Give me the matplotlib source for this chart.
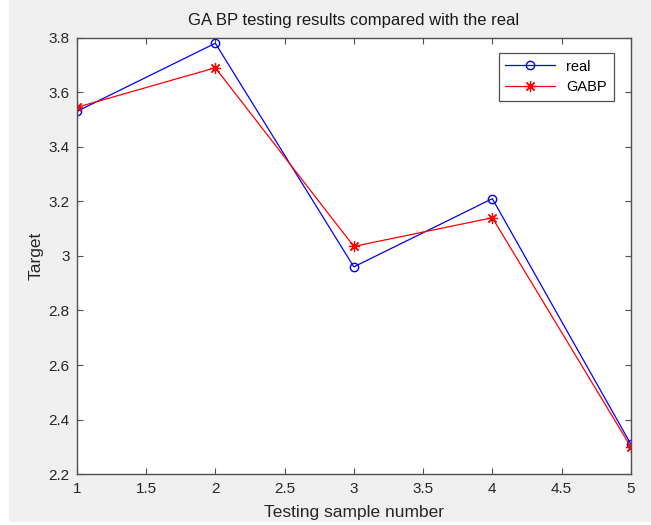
import numpy as np
import matplotlib
matplotlib.use('Agg')
import matplotlib.pyplot as plt
from matplotlib.patches import Rectangle

plt.rcParams['font.family'] = ['Liberation Sans', 'DejaVu Sans']

# test samples
samples = [1, 2, 3, 4, 5]
real = [3.53, 3.78, 2.96, 3.21, 2.31]
gabp = [3.545, 3.69, 3.035, 3.14, 2.30]

xticks = np.arange(1, 5.01, 0.5)
yticks = np.arange(2.2, 3.81, 0.2)

fig = plt.figure(figsize=(6.51, 5.25), dpi=100, facecolor='#f0f0f0')
# white margins of the screenshot (left and bottom)
fig.patches.append(Rectangle((0, 0), 9 / 651, 1, transform=fig.transFigure,
                             facecolor='white', edgecolor='none', zorder=-1))
fig.patches.append(Rectangle((0, 0), 1, 3 / 525, transform=fig.transFigure,
                             facecolor='white', edgecolor='none', zorder=-1))

ax = fig.add_axes([0.118, 0.097, 0.851, 0.831])
ax.set_facecolor('white')

ax.plot(samples, real, color='#0000ff', marker='o', markersize=6,
        markerfacecolor='none', linewidth=0.9, label='real')
ax.plot(samples, gabp, color='#ff0000', marker=(8, 2, 0), markersize=8,
        markeredgewidth=0.9, linewidth=0.9, label='GABP')

ax.set_xlim(1, 5)
ax.set_ylim(2.2, 3.8)
ax.set_xticks(xticks)
ax.set_xticklabels(['1', '1.5', '2', '2.5', '3', '3.5', '4', '4.5', '5'])
ax.set_yticks(yticks)
ax.set_yticklabels(['2.2', '2.4', '2.6', '2.8', '3', '3.2', '3.4', '3.6', '3.8'])

ax.tick_params(direction='in', top=True, right=True, length=4, width=0.8,
               color='#505050', labelsize=11, labelcolor='#262626')
ax.tick_params(axis='x', pad=6)
ax.tick_params(axis='y', pad=5)
for s in ax.spines.values():
    s.set_color('#505050')
    s.set_linewidth(1.0)

ax.set_title('GA BP testing results compared with the real', fontsize=12,
             color='#1a1a1a', pad=9)
ax.set_xlabel('Testing sample number', fontsize=12.5, color='#262626', labelpad=6)
ax.set_ylabel('Target', fontsize=12.5, color='#262626', labelpad=4)

leg = ax.legend(loc='upper right', bbox_to_anchor=(0.982, 0.982), fontsize=10.5,
                fancybox=False, edgecolor='#505050', framealpha=1,
                handlelength=3.4, borderpad=0.45, labelspacing=0.45)
leg.get_frame().set_linewidth(0.9)

plt.savefig('out.png', dpi=100, facecolor=fig.get_facecolor())
